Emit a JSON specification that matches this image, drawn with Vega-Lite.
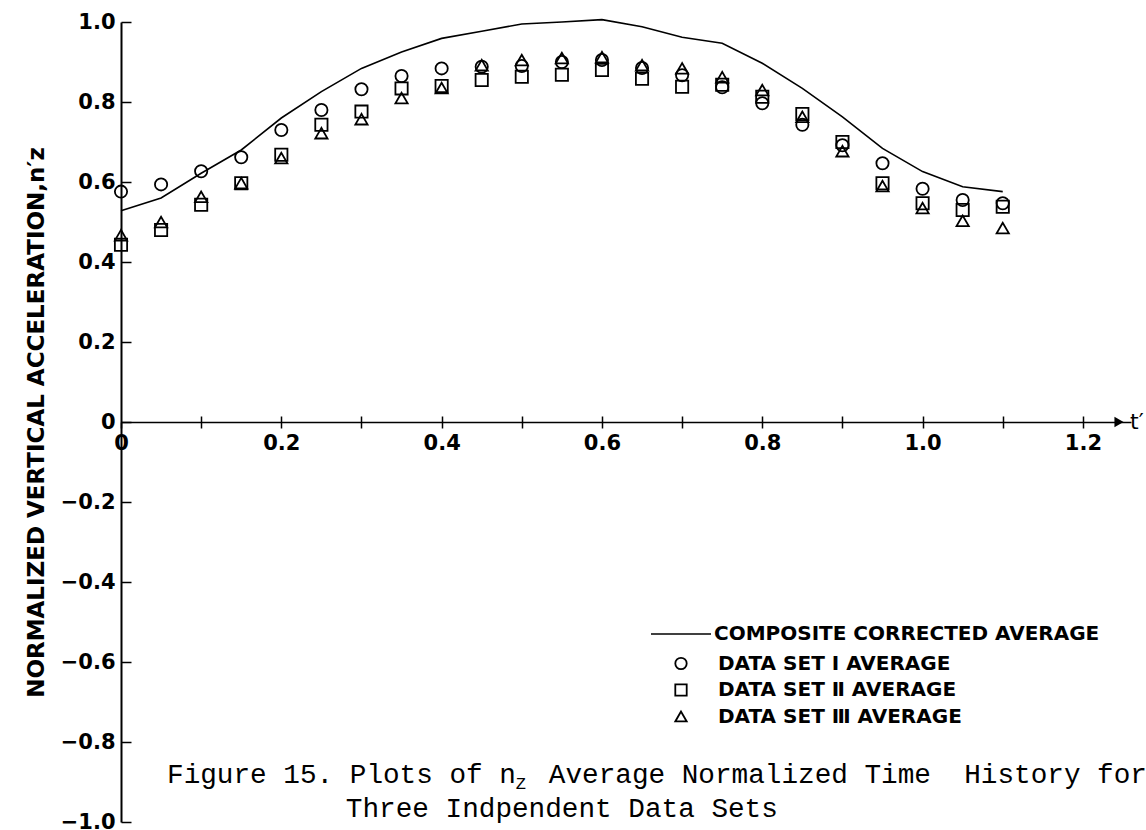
{
  "$schema": "https://vega.github.io/schema/vega-lite/v6.json",
  "autosize": "none",
  "width": 1010,
  "height": 800,
  "padding": {"left": 121, "top": 22, "right": 15, "bottom": 8},
  "background": "white",
  "config": {
    "view": {"stroke": null},
    "axis": {"grid": false, "labelFont": "DejaVu Sans", "labelFontWeight": "bold", "labelColor": "black", "labelFontSize": 21, "domainColor": "black", "tickColor": "black", "labelOverlap": false}
  },
  "resolve": {"axis": {"x": "independent"}},
  "datasets": {
    "composite": [
      {"t": 0, "nz": 0.528, "series": "COMPOSITE CORRECTED AVERAGE"},
      {"t": 0.05, "nz": 0.56, "series": "COMPOSITE CORRECTED AVERAGE"},
      {"t": 0.1, "nz": 0.622, "series": "COMPOSITE CORRECTED AVERAGE"},
      {"t": 0.15, "nz": 0.68, "series": "COMPOSITE CORRECTED AVERAGE"},
      {"t": 0.2, "nz": 0.76, "series": "COMPOSITE CORRECTED AVERAGE"},
      {"t": 0.25, "nz": 0.826, "series": "COMPOSITE CORRECTED AVERAGE"},
      {"t": 0.3, "nz": 0.884, "series": "COMPOSITE CORRECTED AVERAGE"},
      {"t": 0.35, "nz": 0.925, "series": "COMPOSITE CORRECTED AVERAGE"},
      {"t": 0.4, "nz": 0.959, "series": "COMPOSITE CORRECTED AVERAGE"},
      {"t": 0.45, "nz": 0.977, "series": "COMPOSITE CORRECTED AVERAGE"},
      {"t": 0.5, "nz": 0.995, "series": "COMPOSITE CORRECTED AVERAGE"},
      {"t": 0.55, "nz": 1.0, "series": "COMPOSITE CORRECTED AVERAGE"},
      {"t": 0.6, "nz": 1.006, "series": "COMPOSITE CORRECTED AVERAGE"},
      {"t": 0.65, "nz": 0.988, "series": "COMPOSITE CORRECTED AVERAGE"},
      {"t": 0.7, "nz": 0.962, "series": "COMPOSITE CORRECTED AVERAGE"},
      {"t": 0.75, "nz": 0.947, "series": "COMPOSITE CORRECTED AVERAGE"},
      {"t": 0.8, "nz": 0.897, "series": "COMPOSITE CORRECTED AVERAGE"},
      {"t": 0.85, "nz": 0.834, "series": "COMPOSITE CORRECTED AVERAGE"},
      {"t": 0.9, "nz": 0.763, "series": "COMPOSITE CORRECTED AVERAGE"},
      {"t": 0.95, "nz": 0.684, "series": "COMPOSITE CORRECTED AVERAGE"},
      {"t": 1.0, "nz": 0.626, "series": "COMPOSITE CORRECTED AVERAGE"},
      {"t": 1.05, "nz": 0.588, "series": "COMPOSITE CORRECTED AVERAGE"},
      {"t": 1.1, "nz": 0.576, "series": "COMPOSITE CORRECTED AVERAGE"}
    ],
    "sets": [
      {"t": 0, "nz": 0.576, "set": "DATA SET Ⅰ AVERAGE"},
      {"t": 0.05, "nz": 0.594, "set": "DATA SET Ⅰ AVERAGE"},
      {"t": 0.1, "nz": 0.627, "set": "DATA SET Ⅰ AVERAGE"},
      {"t": 0.15, "nz": 0.662, "set": "DATA SET Ⅰ AVERAGE"},
      {"t": 0.2, "nz": 0.73, "set": "DATA SET Ⅰ AVERAGE"},
      {"t": 0.25, "nz": 0.78, "set": "DATA SET Ⅰ AVERAGE"},
      {"t": 0.3, "nz": 0.832, "set": "DATA SET Ⅰ AVERAGE"},
      {"t": 0.35, "nz": 0.865, "set": "DATA SET Ⅰ AVERAGE"},
      {"t": 0.4, "nz": 0.884, "set": "DATA SET Ⅰ AVERAGE"},
      {"t": 0.45, "nz": 0.888, "set": "DATA SET Ⅰ AVERAGE"},
      {"t": 0.5, "nz": 0.89, "set": "DATA SET Ⅰ AVERAGE"},
      {"t": 0.55, "nz": 0.9, "set": "DATA SET Ⅰ AVERAGE"},
      {"t": 0.6, "nz": 0.905, "set": "DATA SET Ⅰ AVERAGE"},
      {"t": 0.65, "nz": 0.885, "set": "DATA SET Ⅰ AVERAGE"},
      {"t": 0.7, "nz": 0.867, "set": "DATA SET Ⅰ AVERAGE"},
      {"t": 0.75, "nz": 0.837, "set": "DATA SET Ⅰ AVERAGE"},
      {"t": 0.8, "nz": 0.797, "set": "DATA SET Ⅰ AVERAGE"},
      {"t": 0.85, "nz": 0.743, "set": "DATA SET Ⅰ AVERAGE"},
      {"t": 0.9, "nz": 0.692, "set": "DATA SET Ⅰ AVERAGE"},
      {"t": 0.95, "nz": 0.647, "set": "DATA SET Ⅰ AVERAGE"},
      {"t": 1.0, "nz": 0.583, "set": "DATA SET Ⅰ AVERAGE"},
      {"t": 1.05, "nz": 0.555, "set": "DATA SET Ⅰ AVERAGE"},
      {"t": 1.1, "nz": 0.547, "set": "DATA SET Ⅰ AVERAGE"},
      {"t": 0, "nz": 0.443, "set": "DATA SET Ⅱ AVERAGE"},
      {"t": 0.05, "nz": 0.48, "set": "DATA SET Ⅱ AVERAGE"},
      {"t": 0.1, "nz": 0.543, "set": "DATA SET Ⅱ AVERAGE"},
      {"t": 0.15, "nz": 0.597, "set": "DATA SET Ⅱ AVERAGE"},
      {"t": 0.2, "nz": 0.668, "set": "DATA SET Ⅱ AVERAGE"},
      {"t": 0.25, "nz": 0.743, "set": "DATA SET Ⅱ AVERAGE"},
      {"t": 0.3, "nz": 0.776, "set": "DATA SET Ⅱ AVERAGE"},
      {"t": 0.35, "nz": 0.834, "set": "DATA SET Ⅱ AVERAGE"},
      {"t": 0.4, "nz": 0.84, "set": "DATA SET Ⅱ AVERAGE"},
      {"t": 0.45, "nz": 0.855, "set": "DATA SET Ⅱ AVERAGE"},
      {"t": 0.5, "nz": 0.863, "set": "DATA SET Ⅱ AVERAGE"},
      {"t": 0.55, "nz": 0.868, "set": "DATA SET Ⅱ AVERAGE"},
      {"t": 0.6, "nz": 0.88, "set": "DATA SET Ⅱ AVERAGE"},
      {"t": 0.65, "nz": 0.858, "set": "DATA SET Ⅱ AVERAGE"},
      {"t": 0.7, "nz": 0.838, "set": "DATA SET Ⅱ AVERAGE"},
      {"t": 0.75, "nz": 0.843, "set": "DATA SET Ⅱ AVERAGE"},
      {"t": 0.8, "nz": 0.813, "set": "DATA SET Ⅱ AVERAGE"},
      {"t": 0.85, "nz": 0.77, "set": "DATA SET Ⅱ AVERAGE"},
      {"t": 0.9, "nz": 0.70, "set": "DATA SET Ⅱ AVERAGE"},
      {"t": 0.95, "nz": 0.597, "set": "DATA SET Ⅱ AVERAGE"},
      {"t": 1.0, "nz": 0.547, "set": "DATA SET Ⅱ AVERAGE"},
      {"t": 1.05, "nz": 0.53, "set": "DATA SET Ⅱ AVERAGE"},
      {"t": 1.1, "nz": 0.538, "set": "DATA SET Ⅱ AVERAGE"},
      {"t": 0, "nz": 0.467, "set": "DATA SET Ⅲ AVERAGE"},
      {"t": 0.05, "nz": 0.5, "set": "DATA SET Ⅲ AVERAGE"},
      {"t": 0.1, "nz": 0.563, "set": "DATA SET Ⅲ AVERAGE"},
      {"t": 0.15, "nz": 0.597, "set": "DATA SET Ⅲ AVERAGE"},
      {"t": 0.2, "nz": 0.66, "set": "DATA SET Ⅲ AVERAGE"},
      {"t": 0.25, "nz": 0.722, "set": "DATA SET Ⅲ AVERAGE"},
      {"t": 0.3, "nz": 0.757, "set": "DATA SET Ⅲ AVERAGE"},
      {"t": 0.35, "nz": 0.81, "set": "DATA SET Ⅲ AVERAGE"},
      {"t": 0.4, "nz": 0.835, "set": "DATA SET Ⅲ AVERAGE"},
      {"t": 0.45, "nz": 0.892, "set": "DATA SET Ⅲ AVERAGE"},
      {"t": 0.5, "nz": 0.905, "set": "DATA SET Ⅲ AVERAGE"},
      {"t": 0.55, "nz": 0.91, "set": "DATA SET Ⅲ AVERAGE"},
      {"t": 0.6, "nz": 0.912, "set": "DATA SET Ⅲ AVERAGE"},
      {"t": 0.65, "nz": 0.892, "set": "DATA SET Ⅲ AVERAGE"},
      {"t": 0.7, "nz": 0.884, "set": "DATA SET Ⅲ AVERAGE"},
      {"t": 0.75, "nz": 0.862, "set": "DATA SET Ⅲ AVERAGE"},
      {"t": 0.8, "nz": 0.83, "set": "DATA SET Ⅲ AVERAGE"},
      {"t": 0.85, "nz": 0.763, "set": "DATA SET Ⅲ AVERAGE"},
      {"t": 0.9, "nz": 0.677, "set": "DATA SET Ⅲ AVERAGE"},
      {"t": 0.95, "nz": 0.59, "set": "DATA SET Ⅲ AVERAGE"},
      {"t": 1.0, "nz": 0.535, "set": "DATA SET Ⅲ AVERAGE"},
      {"t": 1.05, "nz": 0.503, "set": "DATA SET Ⅲ AVERAGE"},
      {"t": 1.1, "nz": 0.485, "set": "DATA SET Ⅲ AVERAGE"}
    ]
  },
  "layer": [
    {
      "data": {"name": "composite"},
      "mark": {"type": "line", "strokeWidth": 1.6},
      "encoding": {
        "x": {
          "field": "t", "type": "quantitative",
          "scale": {"domain": [0, 1.26], "nice": false, "zero": false},
          "axis": {
            "orient": "bottom", "offset": -400, "title": null,
            "values": [0, 0.1, 0.2, 0.3, 0.4, 0.5, 0.6, 0.7, 0.8, 0.9, 1.0, 1.1, 1.2],
            "labelExpr": "round(datum.value*10) % 2 == 1 ? '' : (datum.value == 0 ? '0' : format(datum.value, '.1f'))",
            "domainWidth": 1.5, "tickWidth": 1.5, "tickSize": 6, "labelPadding": 4, "labelFlush": false
          }
        },
        "y": {
          "field": "nz", "type": "quantitative",
          "scale": {"domain": [-1, 1], "nice": false},
          "axis": {
            "orient": "left",
            "values": [-1, -0.9, -0.8, -0.7, -0.6, -0.5, -0.4, -0.3, -0.2, -0.1, 0, 0.1, 0.2, 0.3, 0.4, 0.5, 0.6, 0.7, 0.8, 0.9, 1],
            "labelExpr": "abs(round(datum.value*10)) % 2 == 1 ? '' : (datum.value == 0 ? '0' : (datum.value < 0 ? '−' + format(-datum.value, '.1f') : format(datum.value, '.1f')))",
            "title": "NORMALIZED VERTICAL ACCELERATION,n′z",
            "titleFont": "DejaVu Sans", "titleFontWeight": "bold", "titleFontSize": 23, "titleColor": "black", "titlePadding": 12,
            "domainWidth": 2, "tickWidth": 1.5, "tickSize": -10, "labelPadding": 16
          }
        },
        "color": {
          "field": "series", "type": "nominal",
          "scale": {"range": ["black"]},
          "legend": {
            "orient": "none", "legendX": 529, "legendY": 581, "title": null, "padding": 0,
            "symbolType": "stroke", "symbolSize": 3600, "symbolStrokeWidth": 1.5, "symbolStrokeColor": "black",
            "labelFont": "DejaVu Sans", "labelFontWeight": "bold", "labelFontSize": 20, "labelColor": "black", "labelOffset": 2, "labelLimit": 0
          }
        }
      }
    },
    {
      "data": {"name": "sets"},
      "mark": {"type": "point", "filled": false, "stroke": "black", "strokeWidth": 1.8, "size": 150, "opacity": 1},
      "encoding": {
        "x": {
          "field": "t", "type": "quantitative",
          "axis": {
            "orient": "top", "offset": -400, "title": null, "labels": false, "domain": false,
            "values": [0.1, 0.2, 0.3, 0.4, 0.5, 0.6, 0.7, 0.8, 0.9, 1.0, 1.1, 1.2],
            "tickWidth": 1.5, "tickSize": 6
          }
        },
        "y": {"field": "nz", "type": "quantitative"},
        "shape": {
          "field": "set", "type": "nominal",
          "scale": {"domain": ["DATA SET Ⅰ AVERAGE", "DATA SET Ⅱ AVERAGE", "DATA SET Ⅲ AVERAGE"], "range": ["circle", "square", "triangle-up"]},
          "legend": {
            "orient": "none", "legendX": 550, "legendY": 631.5, "title": null, "padding": 0,
            "symbolSize": 130, "symbolStrokeWidth": 1.8, "symbolStrokeColor": "black", "symbolFillColor": "transparent",
            "labelFont": "DejaVu Sans", "labelFontWeight": "bold", "labelFontSize": 20, "labelColor": "black", "labelOffset": 27, "labelLimit": 0, "rowPadding": 6.5
          }
        }
      }
    },
    {
      "data": {"values": [{}]},
      "mark": {"type": "point", "shape": "triangle-right", "filled": true, "color": "black", "size": 110, "opacity": 1},
      "encoding": {"x": {"datum": 1.245, "axis": null}, "y": {"datum": 0}}
    },
    {
      "data": {"values": [{}]},
      "mark": {"type": "text", "text": "t′", "font": "DejaVu Sans", "fontSize": 22, "align": "left", "baseline": "middle", "dx": -1, "color": "black"},
      "encoding": {"x": {"datum": 1.26, "axis": null}, "y": {"datum": 0}}
    },
    {
      "data": {"values": [{}]},
      "mark": {"type": "text", "text": "Figure 15. Plots of n", "font": "Liberation Mono", "fontSize": 27.7, "align": "left", "baseline": "alphabetic", "color": "black"},
      "encoding": {"x": {"datum": 0.0574, "axis": null}, "y": {"datum": -0.9025}}
    },
    {
      "data": {"values": [{}]},
      "mark": {"type": "text", "text": "Z", "font": "Liberation Mono", "fontSize": 17, "align": "left", "baseline": "alphabetic", "color": "black"},
      "encoding": {"x": {"datum": 0.4925, "axis": null}, "y": {"datum": -0.9175}}
    },
    {
      "data": {"values": [{}]},
      "mark": {"type": "text", "text": "Average Normalized Time\u00a0 History for", "font": "Liberation Mono", "fontSize": 27.7, "align": "left", "baseline": "alphabetic", "color": "black"},
      "encoding": {"x": {"datum": 0.5337, "axis": null}, "y": {"datum": -0.9025}}
    },
    {
      "data": {"values": [{}]},
      "mark": {"type": "text", "text": "Three Indpendent Data Sets", "font": "Liberation Mono", "fontSize": 27.7, "align": "left", "baseline": "alphabetic", "color": "black"},
      "encoding": {"x": {"datum": 0.2805, "axis": null}, "y": {"datum": -0.9875}}
    }
  ]
}
